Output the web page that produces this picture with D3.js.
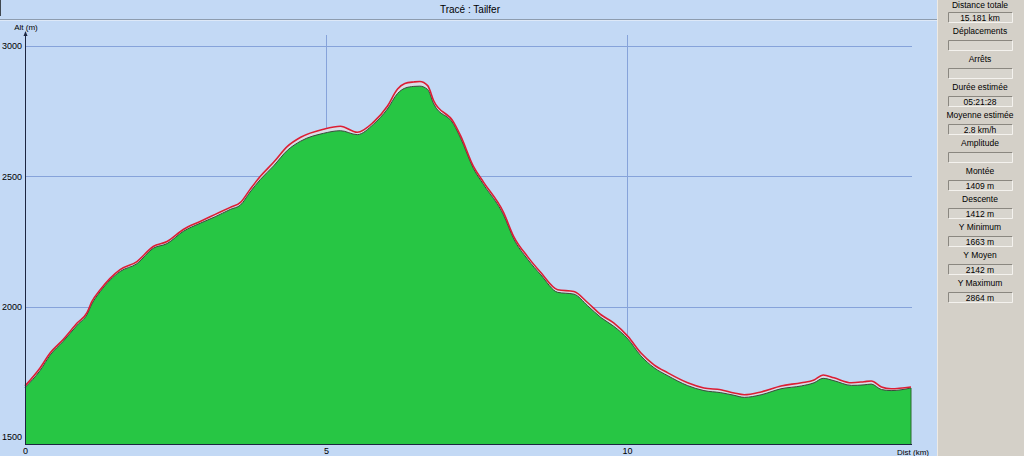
<!DOCTYPE html>
<html><head><meta charset="utf-8">
<script src="https://cdn.jsdelivr.net/npm/d3@7"></script>
<style>
html,body{margin:0;padding:0;background:#c3d9f5;overflow:hidden}
text{font-family:"Liberation Sans",Arial,sans-serif;fill:#000}
</style></head><body>
<svg id="c" width="1024" height="456"></svg>
<script>
// distance along the track (km)
const dist = [0, 0.25, 0.42, 0.63, 0.87, 1.03, 1.11, 1.25, 1.58, 1.86, 2.13, 2.36, 2.63, 2.91, 3.16, 3.41, 3.58, 3.74, 3.91, 4.13, 4.36, 4.58, 4.96, 5.24, 5.52, 5.79, 6.02, 6.19, 6.31, 6.46, 6.56, 6.69, 6.79, 7.12, 7.24, 7.45, 7.62, 7.95, 8.12, 8.35, 8.57, 8.85, 9.12, 9.35, 9.57, 9.78, 10.02, 10.23, 10.45, 10.68, 11.01, 11.28, 11.56, 11.78, 11.95, 12.23, 12.56, 12.90, 13.11, 13.26, 13.44, 13.73, 13.94, 14.06, 14.23, 14.39, 14.72];
// track altitude (red line, m)
const altTrace = [1696, 1765, 1823, 1873, 1938, 1977, 2019, 2065, 2142, 2173, 2231, 2250, 2296, 2327, 2354, 2381, 2400, 2450, 2500, 2554, 2615, 2650, 2681, 2692, 2669, 2708, 2769, 2835, 2856, 2862, 2864, 2848, 2790, 2708, 2654, 2538, 2477, 2362, 2269, 2192, 2131, 2065, 2058, 2015, 1969, 1938, 1885, 1823, 1777, 1746, 1708, 1688, 1681, 1669, 1662, 1673, 1696, 1708, 1719, 1738, 1727, 1708, 1712, 1715, 1692, 1685, 1692];
// terrain altitude (green area, m)
const altTerrain = [1690, 1755, 1815, 1866, 1930, 1970, 2010, 2058, 2135, 2165, 2224, 2242, 2289, 2320, 2345, 2373, 2390, 2440, 2488, 2540, 2600, 2635, 2665, 2675, 2660, 2700, 2758, 2818, 2838, 2845, 2846, 2833, 2778, 2700, 2645, 2530, 2468, 2352, 2260, 2182, 2122, 2055, 2048, 2003, 1958, 1925, 1875, 1812, 1766, 1735, 1697, 1678, 1670, 1660, 1652, 1662, 1685, 1696, 1708, 1725, 1716, 1698, 1700, 1703, 1682, 1678, 1688];
const yTicks = [1500, 2000, 2500, 3000];
const xTicks = [0, 5, 10];
const title = "Tracé : Tailfer";
const statLabels = ["Distance totale","Déplacements","Arrêts","Durée estimée","Moyenne estimée","Amplitude","Montée","Descente","Y Minimum","Y Moyen","Y Maximum"];
const statValues = ["15.181 km","","","05:21:28","2.8 km/h","","1409 m","1412 m","1663 m","2142 m","2864 m"];

const svg = d3.select("#c");
const x = d3.scaleLinear().domain([0, 14.72]).range([25, 911]);
const y = d3.scaleLinear().domain([1500, 3000]).range([437, 46]);
const yBase = 444;
const curve = d3.curveMonotoneX;

// header
svg.append("rect").attr("x",0).attr("y",0).attr("width",1024).attr("height",456).attr("fill","#c3d9f5");
svg.append("line").attr("x1",0).attr("x2",937).attr("y1",19.5).attr("y2",19.5).attr("stroke","#8d9cae");
svg.append("line").attr("x1",0).attr("x2",937).attr("y1",20.5).attr("y2",20.5).attr("stroke","#dde8f7");
svg.append("line").attr("x1",0.5).attr("x2",0.5).attr("y1",0).attr("y2",16).attr("stroke","#404850");
svg.append("text").attr("x",470).attr("y",13).attr("text-anchor","middle").attr("font-size",10).text(title);

// grid
svg.append("g").selectAll("line").data(yTicks.filter(v=>v>1500)).join("line")
  .attr("x1",25).attr("x2",912).attr("y1",d=>Math.round(y(d))+0.5).attr("y2",d=>Math.round(y(d))+0.5)
  .attr("stroke","#86a3da");
svg.append("g").selectAll("line").data(xTicks.filter(v=>v>0)).join("line")
  .attr("x1",d=>Math.round(x(d))+0.5).attr("x2",d=>Math.round(x(d))+0.5).attr("y1",35).attr("y2",yBase)
  .attr("stroke","#86a3da");

// band between terrain and track
const band = d3.area().curve(curve).x((d,i)=>x(dist[i])).y0((d,i)=>y(altTerrain[i])).y1((d,i)=>y(altTrace[i]));
svg.append("path").datum(dist).attr("d",band).attr("fill","#d9dde6");

// terrain area
const area = d3.area().curve(curve).x((d,i)=>x(dist[i])).y0(yBase).y1((d,i)=>y(altTerrain[i]));
svg.append("path").datum(dist).attr("d",area).attr("fill","#27c644");
const topLine = d3.line().curve(curve).x((d,i)=>x(dist[i])).y((d,i)=>y(altTerrain[i]));
svg.append("path").datum(dist).attr("d",topLine).attr("fill","none").attr("stroke","#3c4a3c").attr("stroke-width",1);
svg.append("line").attr("x1",x(dist[dist.length-1])).attr("x2",x(dist[dist.length-1]))
  .attr("y1",y(altTerrain[altTerrain.length-1])).attr("y2",yBase).attr("stroke","#2a6a30");

// track line
const trace = d3.line().curve(curve).x((d,i)=>x(dist[i])).y((d,i)=>y(altTrace[i]));
svg.append("path").datum(dist).attr("d",trace).attr("fill","none").attr("stroke","#dc1e34").attr("stroke-width",1.6);

// axes
svg.append("line").attr("x1",25.5).attr("x2",25.5).attr("y1",33).attr("y2",yBase+0.5).attr("stroke","#1c2640");
svg.append("path").attr("d","M23.5,36 L25.5,31 L27.5,36 Z").attr("fill","#1c2640");
svg.append("line").attr("x1",25).attr("x2",912).attr("y1",yBase+0.5).attr("y2",yBase+0.5).attr("stroke","#1c2640");

const yAxis = d3.axisLeft(y).tickValues(yTicks).tickSize(0).tickPadding(3).tickFormat(d3.format("d"));
const gy = svg.append("g").attr("transform","translate(25,0)").call(yAxis);
gy.select(".domain").remove();
gy.selectAll("text").attr("font-size",9).attr("font-family","'Liberation Sans',Arial,sans-serif").attr("fill","#000");

const xAxis = d3.axisBottom(x).tickValues(xTicks).tickSize(0).tickPadding(4).tickFormat(d3.format("d"));
const gx = svg.append("g").attr("transform","translate(0,"+yBase+")").call(xAxis);
gx.select(".domain").remove();
gx.selectAll("text").attr("font-size",9).attr("font-family","'Liberation Sans',Arial,sans-serif").attr("fill","#000");

svg.append("text").attr("x",26).attr("y",30).attr("text-anchor","middle").attr("font-size",8).text("Alt (m)");
svg.append("text").attr("x",913).attr("y",455).attr("text-anchor","middle").attr("font-size",8).text("Dist (km)");

// right panel
svg.append("rect").attr("x",937).attr("y",0).attr("width",87).attr("height",456).attr("fill","#d4d0c8");
svg.append("line").attr("x1",937.5).attr("x2",937.5).attr("y1",0).attr("y2",456).attr("stroke","#eeeae4");
const panel = svg.append("g");
statLabels.forEach((lab,i)=>{
  const cy = 28*i;
  panel.append("text").attr("x",980).attr("y",i===0?8:cy+6).attr("text-anchor","middle").attr("font-size",8.5).text(lab);
  panel.append("rect").attr("x",948.5).attr("y",cy+12.5).attr("width",64).attr("height",10).attr("fill","#d8d5ce").attr("stroke","none");
  panel.append("path").attr("d",`M948.5,${cy+22.5} V${cy+12.5} H1012.5`).attr("fill","none").attr("stroke","#8a8780");
  panel.append("path").attr("d",`M948.5,${cy+22.5} H1012.5 V${cy+12.5}`).attr("fill","none").attr("stroke","#f4f2ee");
  if(statValues[i]) panel.append("text").attr("x",980).attr("y",cy+21).attr("text-anchor","middle").attr("font-size",8.5).text(statValues[i]);
});
</script>
</body></html>
